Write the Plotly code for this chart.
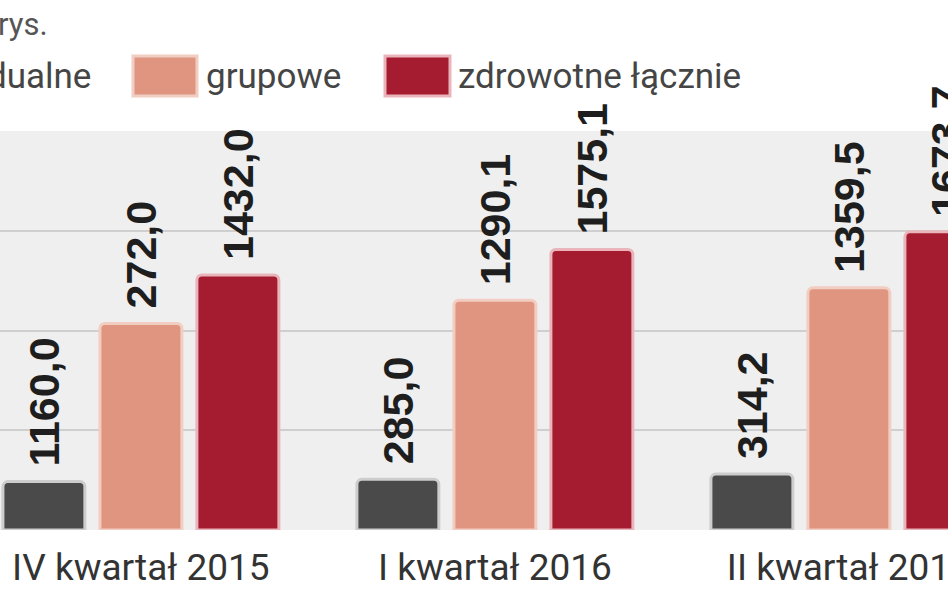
import plotly.graph_objects as go

# ---- data ----
categories = ["IV kwartał 2015", "I kwartał 2016", "II kwartał 2016"]
series_names = ["indywidualne", "grupowe", "zdrowotne łącznie"]
indywidualne = [272.0, 285.0, 314.2]
grupowe = [1160.0, 1290.1, 1359.5]
lacznie = [1432.0, 1575.1, 1673.7]
# value labels exactly as printed in the source graphic
indywidualne_labels = ["1160,0", "285,0", "314,2"]
grupowe_labels = ["272,0", "1290,1", "1359,5"]
lacznie_labels = ["1432,0", "1575,1", "1673,7"]
source_note = "rys."

# ---- styling ----
W, H = 948, 593
M_T, M_B = 131, 63
fill_colors = ["#4a4a4a", "#df9580", "#a51b2f"]
line_colors = ["#cdcdcd", "#f2cdc2", "#e9b5bb"]
label_font = dict(family="Liberation Sans, Arial, sans-serif", size=43, color="#1e1e1e")
legend_font = dict(family="Roboto, Liberation Sans, sans-serif", size=35, color="#454545")
cat_font = dict(family="Roboto, Liberation Sans, sans-serif", size=37, color="#333333")

fig = go.Figure()
for name, vals, labs, fc, lc in zip(series_names,
                                    [indywidualne, grupowe, lacznie],
                                    [indywidualne_labels, grupowe_labels, lacznie_labels],
                                    fill_colors, line_colors):
    fig.add_trace(go.Bar(
        x=categories, y=vals, name=name, text=labs,
        texttemplate="\u00a0%{text}",
        textposition="outside", textangle=-90, constraintext="none",
        cliponaxis=False, textfont=dict(label_font, weight="bold"),
        marker=dict(color=fc, line=dict(color=lc, width=3), cornerradius=5),
        showlegend=False,
    ))

ph = H - M_T - M_B
def xp(px):
    return px / W
def yp(py):
    return (H - M_B - py) / ph

shapes = []
annotations = []
legend_items = [
    (-190, -126, 93),
    (133, 197, 204),
    (385, 450, 456),
]
for i, (name, fc, lc) in enumerate(zip(series_names, fill_colors, line_colors)):
    x0, x1, tx = legend_items[i]
    shapes.append(dict(type="rect", xref="paper", yref="paper",
                       x0=xp(x0), x1=xp(x1), y0=yp(96), y1=yp(56),
                       fillcolor=fc, line=dict(color=lc, width=3)))
    annotations.append(dict(text=name, xref="paper", yref="paper",
                            x=xp(tx), y=yp(77), xanchor="right" if i == 0 else "left",
                            yanchor="middle", showarrow=False, font=legend_font))

annotations.append(dict(text=source_note, xref="paper", yref="paper",
                        x=xp(-4), y=yp(25), xanchor="left", yanchor="middle",
                        showarrow=False, font=dict(legend_font, size=31, color="#555555")))

fig.update_layout(
    width=W, height=H,
    margin=dict(l=0, r=0, t=M_T, b=M_B, pad=0, autoexpand=False),
    paper_bgcolor="#ffffff", plot_bgcolor="#efefef",
    barmode="group", bargap=0.178, bargroupgap=0.155,
    shapes=shapes, annotations=annotations,
    xaxis=dict(type="category", range=[-0.398, 2.28], showgrid=False, zeroline=False,
               showline=False, ticks="", tickfont=cat_font, ticklabelstandoff=12,
               automargin=False),
    yaxis=dict(range=[0, 2240], tickvals=[560, 1120, 1680, 2240], showticklabels=False,
               showgrid=True, gridcolor="#cfcfcf", gridwidth=2, zeroline=False, showline=False,
               automargin=False),
)

fig.write_html("out.html", config={"displayModeBar": False},
               post_script="document.body.style.margin='0';document.body.style.overflow='hidden';")
